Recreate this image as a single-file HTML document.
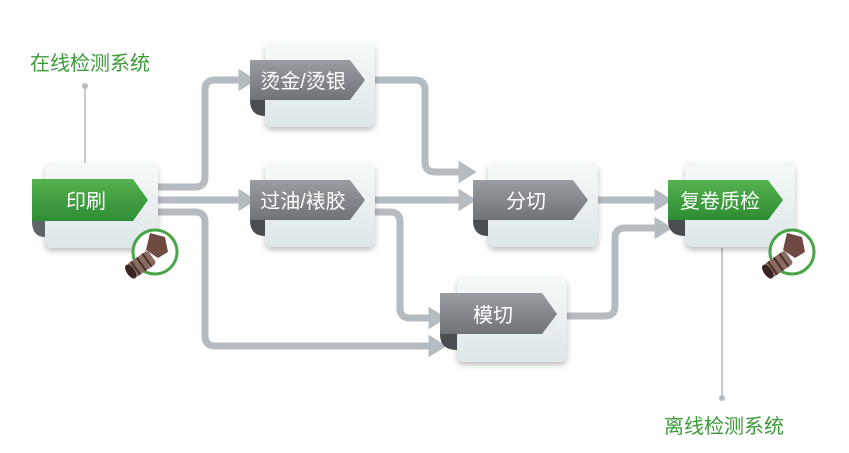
<!DOCTYPE html>
<html><head><meta charset="utf-8"><style>
html,body{margin:0;padding:0;background:#fff;width:849px;height:453px;overflow:hidden}
svg text{font-family:"Liberation Sans","Noto Sans CJK SC",sans-serif}
</style></head><body>
<svg width="849" height="453" viewBox="0 0 849 453" xmlns="http://www.w3.org/2000/svg">
<defs>
<linearGradient id="card" x1="0" y1="0" x2="0" y2="1"><stop offset="0" stop-color="#f6f9f9"/><stop offset="1" stop-color="#dde7e8"/></linearGradient>
<linearGradient id="gray" x1="0" y1="0" x2="0" y2="1"><stop offset="0" stop-color="#9a9da1"/><stop offset="1" stop-color="#6f7377"/></linearGradient>
<linearGradient id="green" x1="0" y1="0" x2="0" y2="1"><stop offset="0" stop-color="#55b24f"/><stop offset="1" stop-color="#2e8c33"/></linearGradient>
<filter id="sh" x="-20%" y="-20%" width="140%" height="150%"><feDropShadow dx="0" dy="3" stdDeviation="3" flood-color="#000" flood-opacity="0.25"/></filter>
<marker id="ah" markerWidth="3.2" markerHeight="3.2" refX="0.5" refY="1.6" orient="auto" markerUnits="strokeWidth"><path d="M0,0 L2.6,1.6 L0,3.2Z" fill="#b4bbc1"/></marker>
</defs>
<g fill="none" stroke="#b4bbc1" stroke-width="7" stroke-linejoin="round">
<path d="M158 187 H195 Q205 187 205 177 V90 Q205 80 215 80 H242" marker-end="url(#ah)"/>
<path d="M158 200 H242" marker-end="url(#ah)"/>
<path d="M158 212 H195 Q205 212 205 222 V336 Q205 346 215 346 H432" marker-end="url(#ah)"/>
<path d="M375 80 H415 Q425 80 425 90 V162 Q425 172 435 172 H462" marker-end="url(#ah)"/>
<path d="M375 200 H462" marker-end="url(#ah)"/>
<path d="M375 212 H390 Q400 212 400 222 V308 Q400 318 410 318 H432" marker-end="url(#ah)"/>
<path d="M598 200 H658" marker-end="url(#ah)"/>
<path d="M567 316 H605 Q615 316 615 306 V238 Q615 228 625 228 H658" marker-end="url(#ah)"/>
</g>
<line x1="85" y1="86" x2="85" y2="163" stroke="#b4bbc1" stroke-width="1.5"/>
<circle cx="85" cy="86" r="3" fill="#b4bbc1"/>
<line x1="722" y1="248" x2="722" y2="398" stroke="#b4bbc1" stroke-width="1.5"/>
<circle cx="722" cy="398" r="3" fill="#b4bbc1"/>
<text x="30" y="70" font-size="20" fill="#3c9a3a">在线检测系统</text>
<text x="664" y="433" font-size="20" fill="#3c9a3a">离线检测系统</text>

<g filter="url(#sh)">
<rect x="45" y="163" width="113" height="85" rx="7" fill="url(#card)"/>
<rect x="265" y="42" width="110" height="85" rx="7" fill="url(#card)"/>
<rect x="265" y="162" width="110" height="85" rx="7" fill="url(#card)"/>
<rect x="488" y="162" width="110" height="85" rx="7" fill="url(#card)"/>
<rect x="457" y="277" width="110" height="85" rx="7" fill="url(#card)"/>
<rect x="685" y="162" width="110" height="85" rx="7" fill="url(#card)"/>
</g>
<g>
<path d="M32 221 Q32 237 45 237 V221Z" fill="#5f6467"/>
<path d="M32 179 H133 L148 200 L133 221 H32Z" fill="url(#green)"/>
<text x="86" y="208" font-size="20" fill="#fff" text-anchor="middle">印刷</text>

<path d="M250 100 Q250 116 265 116 V100Z" fill="#4a4e52"/>
<path d="M250 60 H350 L365 80 L350 100 H250Z" fill="url(#gray)"/>
<text x="303" y="88" font-size="20" fill="#fff" text-anchor="middle">烫金/烫银</text>

<path d="M250 220 Q250 236 265 236 V220Z" fill="#4a4e52"/>
<path d="M250 180 H350 L365 200 L350 220 H250Z" fill="url(#gray)"/>
<text x="303" y="208" font-size="20" fill="#fff" text-anchor="middle">过油/裱胶</text>

<path d="M473 220 Q473 236 488 236 V220Z" fill="#4a4e52"/>
<path d="M473 180 H573 L588 200 L573 220 H473Z" fill="url(#gray)"/>
<text x="526" y="208" font-size="20" fill="#fff" text-anchor="middle">分切</text>

<path d="M440 334 Q440 350 457 350 V334Z" fill="#4a4e52"/>
<path d="M440 293 H542 L557 314 L542 334 H440Z" fill="url(#gray)"/>
<text x="493" y="322" font-size="20" fill="#fff" text-anchor="middle">模切</text>

<path d="M668 220 Q668 236 685 236 V220Z" fill="#4a4e52"/>
<path d="M668 180 H768 L783 200 L768 220 H668Z" fill="url(#green)"/>
<text x="720" y="208" font-size="20" fill="#fff" text-anchor="middle">复卷质检</text>
</g>
<g id="cam1">
<circle cx="155" cy="252" r="22" fill="#fff" stroke="#4aa548" stroke-width="3"/>
<path d="M150 233 L165 237 L168 252 L158 258 L146 250Z" fill="#6e4a42"/>
<g transform="rotate(-35 143 263)"><rect x="128" y="255" width="26" height="16" rx="3" fill="#8a6c63"/><line x1="134" y1="255" x2="134" y2="271" stroke="#4a302b" stroke-width="2"/><line x1="141" y1="255" x2="141" y2="271" stroke="#4a302b" stroke-width="2"/><line x1="148" y1="255" x2="148" y2="271" stroke="#4a302b" stroke-width="2"/><ellipse cx="128" cy="263" rx="4" ry="8" fill="#3a2522"/></g>
</g>
<use href="#cam1" transform="translate(637 0)"/>
</svg>
</body></html>
